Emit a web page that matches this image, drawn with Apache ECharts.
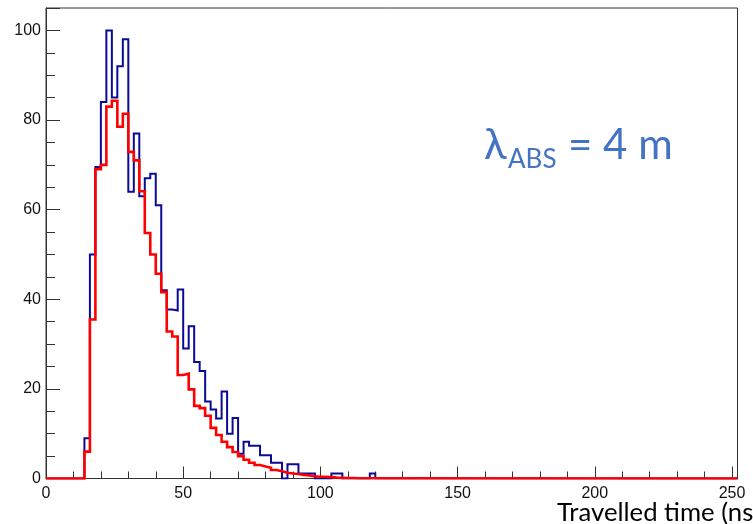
<!DOCTYPE html>
<html><head><meta charset="utf-8">
<script src="https://cdn.jsdelivr.net/npm/echarts@6/dist/echarts.min.js"></script>
<style>html,body{margin:0;padding:0;background:#fff}#c{width:753px;height:524px}</style>
</head><body><div id="c"></div>
<script>
// histogram binning (ns)
const binWidth = 2;
const firstBinStart = 14;   // bins before this are empty
const axisXMax = 252;
const axisYMax = 105;
// blue histogram, bins starting at 14 ns
const blueValues = [9, 50, 69.5, 84, 100, 85, 92, 98, 64, 77, 63, 67, 68, 61, 42, 37.7, 37.5, 42.2, 29, 34,
  26, 24, 17.2, 15.4, 13.4, 19.4, 10, 13.5, 5.5, 8.2, 7.3, 7.3, 5.2, 5.2, 3.5, 3.5, 0, 3.2, 3.2, 1.1,
  1.1, 1.1, 0, 0, 0, 1.1, 1.1, 0, 0, 0, 0, 0, 1.1];
// red histogram, bins starting at 14 ns
const redValues = [6, 35.5, 69, 70, 83, 84.3, 78.5, 81.4, 72.9, 71.0, 64.1, 54.8, 50.0, 45.7, 41.6, 32.8, 31.7, 23.1, 23.4, 19.9,
  16.2, 15.7, 14.0, 11.3, 9.7, 8.2, 7.0, 5.9, 5.0, 4.2, 3.5, 3.0, 2.7, 2.4, 1.9, 1.6, 1.3, 1.1, 1.0, 0.8,
  0.7, 0.5, 0.4, 0.4, 0.3, 0.2, 0.15, 0.1, 0.1, 0.05, 0.05, 0.05, 0.05];
const xMajorInterval = 50, xMinorInterval = 10;
const yMajorInterval = 20, yMinorInterval = 5;
const xAxisTitle = 'Travelled time (ns)';
const labelSymbol = 'λ', labelSub = 'ABS', labelRest = '= 4 m';

function steps(values) {
  const pts = [[0, 0]];
  values.forEach((v, i) => pts.push([firstBinStart + i * binWidth, v]));
  pts.push([firstBinStart + values.length * binWidth, 0]);
  pts.push([axisXMax, 0]);
  return pts;
}

const axisColor = '#333';
const labelFont = { fontFamily: 'Liberation Sans, Arial, sans-serif', fontSize: 16, color: '#111' };

const chart = echarts.init(document.getElementById('c'), null, { renderer: 'canvas' });
chart.setOption({
  animation: false,
  backgroundColor: '#fff',
  grid: { left: 46, right: 15.5, top: 8, bottom: 45.5, show: true, borderColor: axisColor, borderWidth: 1, backgroundColor: 'transparent' },
  xAxis: [
    { type: 'value', min: 0, max: axisXMax, interval: xMajorInterval, position: 'bottom',
      axisLine: { show: true, onZero: false, lineStyle: { color: axisColor, width: 1 } },
      axisTick: { show: true, inside: true, length: 12, lineStyle: { color: axisColor } },
      axisLabel: Object.assign({ margin: 7, formatter: v => (v % xMajorInterval === 0 ? String(v) : '') }, labelFont),
      splitLine: { show: false } },
    { type: 'value', min: 0, max: axisXMax, interval: xMinorInterval, position: 'bottom', offset: 0,
      axisLine: { show: false }, axisTick: { show: true, inside: true, length: 7, lineStyle: { color: axisColor } },
      axisLabel: { show: false }, splitLine: { show: false } }
  ],
  yAxis: [
    { type: 'value', min: 0, max: axisYMax, interval: yMajorInterval, position: 'left',
      axisLine: { show: true, onZero: false, lineStyle: { color: axisColor, width: 1 } },
      axisTick: { show: true, inside: true, length: 14, lineStyle: { color: axisColor } },
      axisLabel: Object.assign({ margin: 5, formatter: v => (v % yMajorInterval === 0 ? String(v) : '') }, labelFont),
      splitLine: { show: false } },
    { type: 'value', min: 0, max: axisYMax, interval: yMinorInterval, position: 'left', offset: 0,
      axisLine: { show: false }, axisTick: { show: true, inside: true, length: 9, lineStyle: { color: axisColor } },
      axisLabel: { show: false }, splitLine: { show: false } }
  ],
  series: [
    { type: 'line', name: 'blue', xAxisIndex: 0, yAxisIndex: 0, step: 'end', showSymbol: false, symbol: 'none',
      data: steps(blueValues), z: 3,
      lineStyle: { color: '#0a0a96', width: 2, join: 'miter', cap: 'butt' } },
    { type: 'line', name: 'red', xAxisIndex: 0, yAxisIndex: 0, step: 'end', showSymbol: false, symbol: 'none',
      data: steps(redValues), z: 4,
      lineStyle: { color: '#ff0000', width: 2.6, join: 'miter', cap: 'butt' } }
  ],
  graphic: [
    { type: 'text', x: 484, y: 145, style: { text: labelSymbol, font: '42px Lato, "Noto Sans", sans-serif', fill: '#4472C4', verticalAlign: 'middle', align: 'left' } },
    { type: 'text', x: 508, y: 160, style: { text: labelSub, font: '26px Lato, sans-serif', fill: '#4472C4', verticalAlign: 'middle', align: 'left' } },
    { type: 'text', x: 568, y: 145, style: { text: labelRest, font: '42px Lato, sans-serif', fill: '#4472C4', verticalAlign: 'middle', align: 'left' } },
    { type: 'text', x: 557, y: 513, style: { text: xAxisTitle, font: '25.7px Lato, sans-serif', fill: '#000', verticalAlign: 'middle', align: 'left' } }
  ]
});
</script>
</body></html>
